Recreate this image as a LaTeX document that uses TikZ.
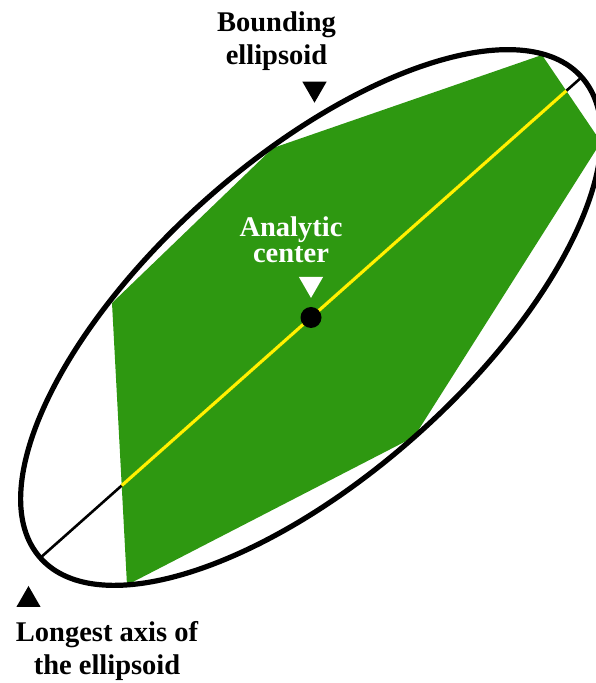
\documentclass[tikz,border=0pt]{standalone}
\usepackage{fontspec}
\setmainfont{Liberation Serif}
\usetikzlibrary{shapes.geometric, calc, positioning}

\definecolor{hullgreen}{RGB}{46,152,17}
\definecolor{axisyellow}{RGB}{255,242,0}

\tikzstyle{boundary} = [draw=black, line width=5.2pt]
\tikzstyle{axisline} = [draw=black, line width=2.6pt]
\tikzstyle{inaxis} = [draw=axisyellow, line width=3.2pt]
\tikzstyle{hull} = [fill=hullgreen]
\tikzstyle{pointer} = [
    regular polygon,
    regular polygon sides=3,
    minimum size=28pt,
    inner sep=0pt
]
\tikzstyle{downtri} = [pointer, shape border rotate=180]
\tikzstyle{labeltext} = [
    align=center,
    inner sep=0pt,
    font=\bfseries\fontsize{28.5}{33}\selectfont
]

\begin{document}
\begin{tikzpicture}[x=1pt, y=1pt]
\useasboundingbox (0,0) rectangle (595,683);

\coordinate (ctr) at (311,365.5);
\coordinate (p1) at (542,628);
\coordinate (p2) at (601,541);
\coordinate (p3) at (414,246);
\coordinate (p4) at (127,98);
\coordinate (p5) at (112,380);
\coordinate (p6) at (273,535);
\coordinate (axlo) at ($(ctr)+(221.6:362)$);
\coordinate (axhi) at ($(ctr)+(41.6:362)$);

\fill [hull] (p1) -- (p2) -- (p3) -- (p4) -- (p5) -- (p6) -- cycle;
\draw [axisline] (axlo) -- (axhi);
\draw [inaxis] (intersection of p4--p5 and axlo--axhi)
    -- (intersection of p1--p2 and axlo--axhi);
\draw [boundary, rotate around={41.6:(ctr)}] (ctr) ellipse [x radius=362, y radius=158];

\node (ctrdot) [circle, fill=black, minimum size=21pt, inner sep=0pt] at (ctr) {};

\node (ctrtri) [downtri, fill=white, above=8.5pt of ctrdot] {};
\node (bndtri) [downtri, fill=black] at (314.5,594.3) {};
\node (axtri) [pointer, fill=black] at (28.5,83) {};

\node (ctrlbl) [labeltext, text=white, font=\bfseries\fontsize{28.5}{26.5}\selectfont,
    above=13.7pt of ctrtri, xshift=-20pt] {Analytic\\center};
\node (bndlbl) [labeltext, above=10.5pt of bndtri, xshift=-38pt] {Bounding\\ellipsoid};
\node (axlbl) [labeltext, below=14pt of axtri, xshift=78.5pt] {Longest axis of\\the ellipsoid};

\end{tikzpicture}
\end{document}
